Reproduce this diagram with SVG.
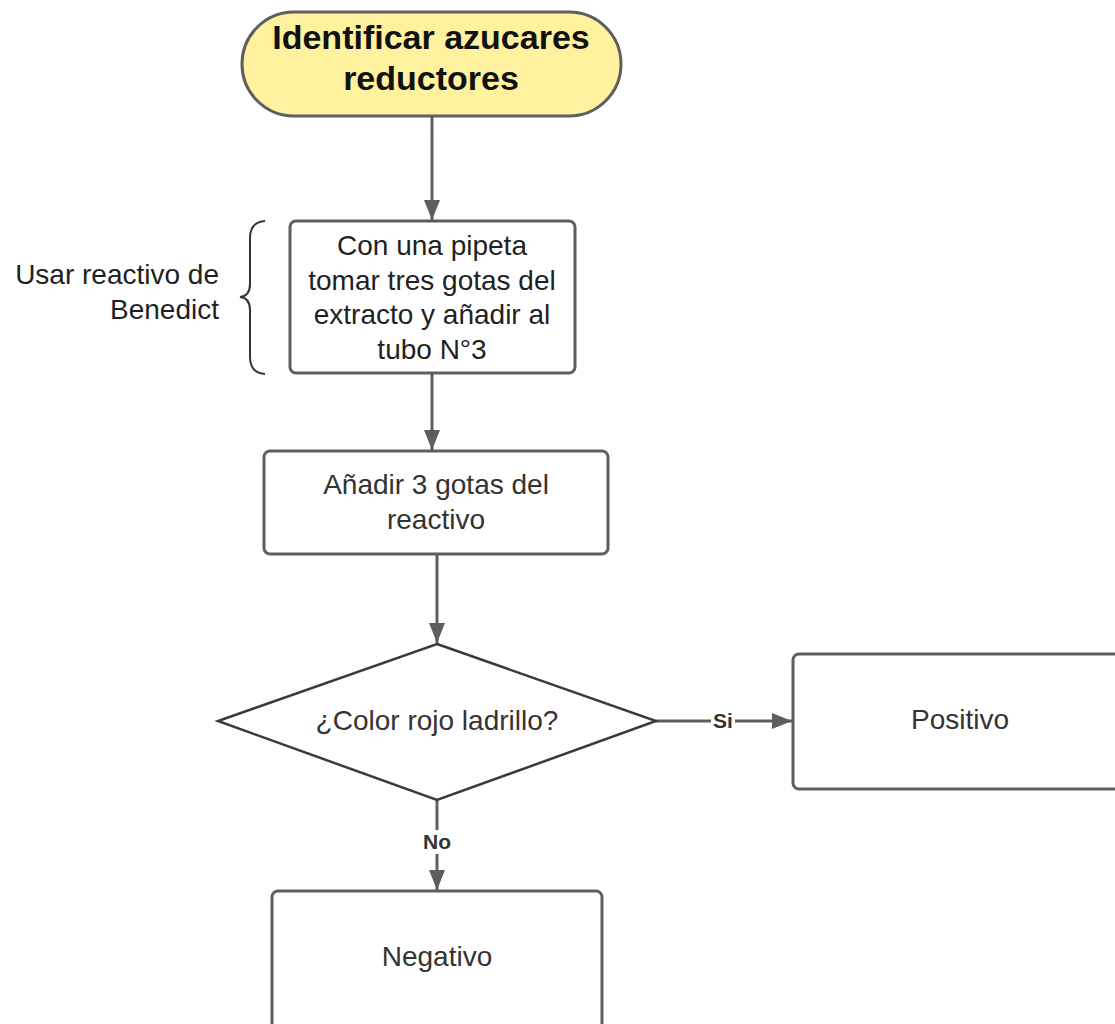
<svg xmlns="http://www.w3.org/2000/svg" width="1115" height="1024" viewBox="0 0 1115 1024">
  <style>
    .shape { fill: #ffffff; stroke: #5e5e5e; stroke-width: 3; }
    .txt { font-family: "Liberation Sans", Arial, sans-serif; font-size: 28px; fill: #333333; text-anchor: middle; }
    .dark { fill: #1f1f1f; }
    .title { font-family: "Liberation Sans", Arial, sans-serif; font-size: 34px; font-weight: bold; fill: #111111; text-anchor: middle; }
    .lbl { font-family: "Liberation Sans", Arial, sans-serif; font-size: 21px; font-weight: bold; fill: #333333; text-anchor: middle; }
    .edge { fill: none; stroke: #5e5e5e; stroke-width: 3; }
  </style>
  <defs>
    <marker id="arrow" viewBox="0 0 10 10" refX="10" refY="5" markerWidth="7" markerHeight="7" markerUnits="userSpaceOnUse" orient="auto">
      <path d="M0,0 L10,5 L0,10 Z" fill="#5e5e5e"/>
    </marker>
    <marker id="head" viewBox="0 0 20 16" refX="20" refY="8" markerWidth="20" markerHeight="16" markerUnits="userSpaceOnUse" orient="auto">
      <path d="M0,0 L20,8 L0,16 Z" fill="#5e5e5e"/>
    </marker>
  </defs>

  <rect width="1115" height="1024" fill="#ffffff"/>

  <!-- connectors -->
  <g id="connectors">
    <path class="edge" d="M432,117 L432,220" marker-end="url(#head)"/>
    <path class="edge" d="M432,374 L432,450" marker-end="url(#head)"/>
    <path class="edge" d="M437,555 L437,643" marker-end="url(#head)"/>
    <path class="edge" d="M656,721 L792,721" marker-end="url(#head)"/>
    <path class="edge" d="M437,800 L437,890" marker-end="url(#head)"/>
    <rect x="711" y="710" width="24" height="22" fill="#ffffff"/>
    <text class="lbl" x="723" y="728">Si</text>
    <rect x="420" y="830" width="34" height="24" fill="#ffffff"/>
    <text class="lbl" x="437" y="849">No</text>
  </g>

  <!-- start terminator -->
  <g id="start">
    <rect x="242" y="12" width="379" height="104" rx="52" ry="52" fill="#fff29e" stroke="#5e5e5e" stroke-width="3"/>
    <text class="title" x="431" y="49">Identificar azucares</text>
    <text class="title" x="431" y="90">reductores</text>
  </g>

  <!-- side note with brace -->
  <g id="note">
    <path d="M265,221 Q250,222 250,238 L250,284 Q250,296 240,297 Q250,298 250,310 L250,357 Q250,373 265,374" fill="none" stroke="#333333" stroke-width="2"/>
    <text class="txt dark" x="219" y="284" text-anchor="end" style="text-anchor:end">Usar reactivo de</text>
    <text class="txt dark" x="219" y="319" text-anchor="end" style="text-anchor:end">Benedict</text>
  </g>

  <!-- step 1 -->
  <g id="step1">
    <rect class="shape" x="290" y="221" width="285" height="152" rx="6" ry="6"/>
    <text class="txt dark" x="432" y="255">Con una pipeta</text>
    <text class="txt dark" x="432" y="290">tomar tres gotas del</text>
    <text class="txt dark" x="432" y="324">extracto y añadir al</text>
    <text class="txt dark" x="432" y="359">tubo N°3</text>
  </g>

  <!-- step 2 -->
  <g id="step2">
    <rect class="shape" x="264" y="451" width="344" height="103" rx="6" ry="6"/>
    <text class="txt" x="436" y="494">Añadir 3 gotas del</text>
    <text class="txt" x="436" y="529">reactivo</text>
  </g>

  <!-- decision -->
  <g id="decision">
    <polygon class="shape" points="437,644 656,721 437,800 218,721" stroke-width="2.5" stroke="#3a3a3a" style="stroke:#3a3a3a;stroke-width:2.5"/>
    <text class="txt" x="437" y="730">¿Color rojo ladrillo?</text>
  </g>

  <!-- positive outcome -->
  <g id="positive">
    <rect class="shape" x="793" y="654" width="340" height="135" rx="6" ry="6"/>
    <text class="txt" x="960" y="729">Positivo</text>
  </g>

  <!-- negative outcome -->
  <g id="negative">
    <rect class="shape" x="272" y="891" width="330" height="150" rx="6" ry="6"/>
    <text class="txt" x="437" y="966">Negativo</text>
  </g>
</svg>
